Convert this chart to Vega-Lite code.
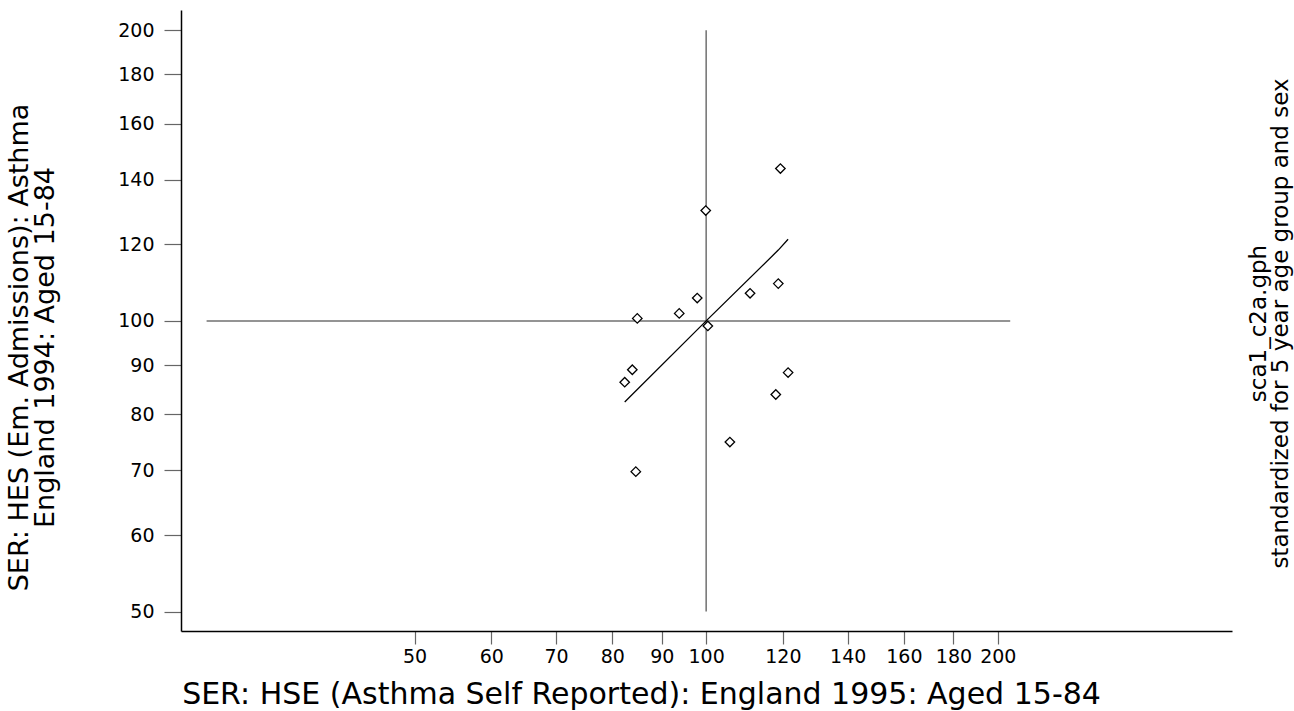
{
  "$schema": "https://vega.github.io/schema/vega-lite/v6.json",
  "width": 1051,
  "height": 621,
  "autosize": {"type": "none"},
  "padding": {"left": 181, "top": 10, "right": 62, "bottom": 80},
  "background": "white",
  "config": {
    "view": {"stroke": null},
    "font": "DejaVu Sans",
    "axisX": {
      "grid": false,
      "domainColor": "black", "domainWidth": 1.5,
      "tickColor": "#666666", "tickSize": 13, "tickWidth": 1.2,
      "labelFont": "DejaVu Sans", "labelFontSize": 19, "labelColor": "black", "labelPadding": 3,
      "labelOverlap": false, "labelFlush": false,
      "titleFont": "DejaVu Sans", "titleFontSize": 30, "titleFontWeight": "normal", "titleColor": "black",
      "titleAlign": "center", "titleBaseline": "middle", "titleX": 460, "titleY": 63
    }
  },
  "datasets": {
    "pts": [
      {"hse": 119.3, "hes": 143.8},
      {"hse": 99.9, "hes": 130.1},
      {"hse": 97.9, "hes": 105.6},
      {"hse": 93.8, "hes": 101.8},
      {"hse": 84.9, "hes": 100.6},
      {"hse": 100.4, "hes": 98.8},
      {"hse": 111.0, "hes": 106.8},
      {"hse": 118.7, "hes": 109.3},
      {"hse": 83.9, "hes": 89.0},
      {"hse": 82.4, "hes": 86.4},
      {"hse": 121.5, "hes": 88.4},
      {"hse": 118.0, "hes": 83.9},
      {"hse": 105.8, "hes": 74.9},
      {"hse": 84.6, "hes": 69.8}
    ],
    "fit": [
      {"hse": 82.4, "hes": 82.4},
      {"hse": 100.0, "hes": 100.0},
      {"hse": 118.7, "hes": 118.4},
      {"hse": 121.5, "hes": 121.5}
    ],
    "vref": [{"hse": 100, "lo": 50, "hi": 200}],
    "href": [{"hes": 100, "hse": 30.5, "hi": 206}]
  },
  "layer": [
    {
      "data": {"name": "vref"},
      "mark": {"type": "rule", "color": "#707070", "strokeWidth": 1.5},
      "encoding": {
        "x": {"field": "hse", "type": "quantitative", "scale": {"type": "log", "domain": [28.7, 349], "nice": false},
          "axis": {"values": [50, 60, 70, 80, 90, 100, 120, 140, 160, 180, 200], "format": "d", "title": "SER: HSE (Asthma Self Reported): England 1995: Aged 15-84"}},
        "y": {"field": "lo", "type": "quantitative", "scale": {"type": "log", "domain": [47.73, 209.9], "nice": false}, "axis": null},
        "y2": {"field": "hi"}
      }
    },
    {
      "data": {"name": "href"},
      "mark": {"type": "rule", "color": "#707070", "strokeWidth": 1.5},
      "encoding": {
        "x": {"field": "hse", "type": "quantitative", "scale": {"type": "log", "domain": [28.7, 349], "nice": false},
          "axis": {"values": [50, 60, 70, 80, 90, 100, 120, 140, 160, 180, 200], "format": "d", "title": "SER: HSE (Asthma Self Reported): England 1995: Aged 15-84"}},
        "x2": {"field": "hi"},
        "y": {"field": "hes", "type": "quantitative", "scale": {"type": "log", "domain": [47.73, 209.9], "nice": false}, "axis": null}
      }
    },
    {
      "data": {"name": "fit"},
      "mark": {"type": "line", "color": "black", "strokeWidth": 1.3},
      "encoding": {
        "x": {"field": "hse", "type": "quantitative", "scale": {"type": "log", "domain": [28.7, 349], "nice": false},
          "axis": {"values": [50, 60, 70, 80, 90, 100, 120, 140, 160, 180, 200], "format": "d", "title": "SER: HSE (Asthma Self Reported): England 1995: Aged 15-84"}},
        "y": {"field": "hes", "type": "quantitative", "scale": {"type": "log", "domain": [47.73, 209.9], "nice": false},
          "axis": {
            "orient": "right",
            "domain": false, "ticks": false, "labels": false, "grid": false,
            "title": ["sca1_c2a.gph", "standardized for 5 year age group and sex"],
            "titleAngle": 270,
            "titleFont": "DejaVu Sans", "titleFontSize": 23, "titleFontWeight": "normal", "titleColor": "black",
            "titleAlign": "center", "titleBaseline": "middle", "titleLineHeight": 22,
            "titleX": 26, "titleY": 313
          }
        }
      }
    },
    {
      "data": {"name": "pts"},
      "mark": {"type": "point", "shape": "diamond", "filled": true, "fill": "white", "stroke": "black", "strokeWidth": 1.3, "size": 90, "opacity": 1},
      "encoding": {
        "x": {"field": "hse", "type": "quantitative", "scale": {"type": "log", "domain": [28.7, 349], "nice": false},
          "axis": {"values": [50, 60, 70, 80, 90, 100, 120, 140, 160, 180, 200], "format": "d", "title": "SER: HSE (Asthma Self Reported): England 1995: Aged 15-84"}},
        "y": {"field": "hes", "type": "quantitative", "scale": {"type": "log", "domain": [47.73, 209.9], "nice": false},
          "axis": {
            "orient": "left",
            "values": [50, 60, 70, 80, 90, 100, 120, 140, 160, 180, 200],
            "format": "d", "grid": false,
            "domainColor": "black", "domainWidth": 1.5,
            "tickColor": "#666666", "tickSize": 17, "tickWidth": 1.2,
            "labelFont": "DejaVu Sans", "labelFontSize": 19, "labelColor": "black", "labelPadding": 10,
            "labelOverlap": false, "labelFlush": false,
            "title": ["SER: HES (Em. Admissions): Asthma", "England 1994: Aged 15-84"],
            "titleAngle": 270,
            "titleFont": "DejaVu Sans", "titleFontSize": 27, "titleFontWeight": "normal", "titleColor": "black",
            "titleAlign": "center", "titleBaseline": "middle", "titleLineHeight": 26,
            "titleX": -162, "titleY": 337
          }
        }
      }
    }
  ],
  "resolve": {"axis": {"y": "independent"}}
}
